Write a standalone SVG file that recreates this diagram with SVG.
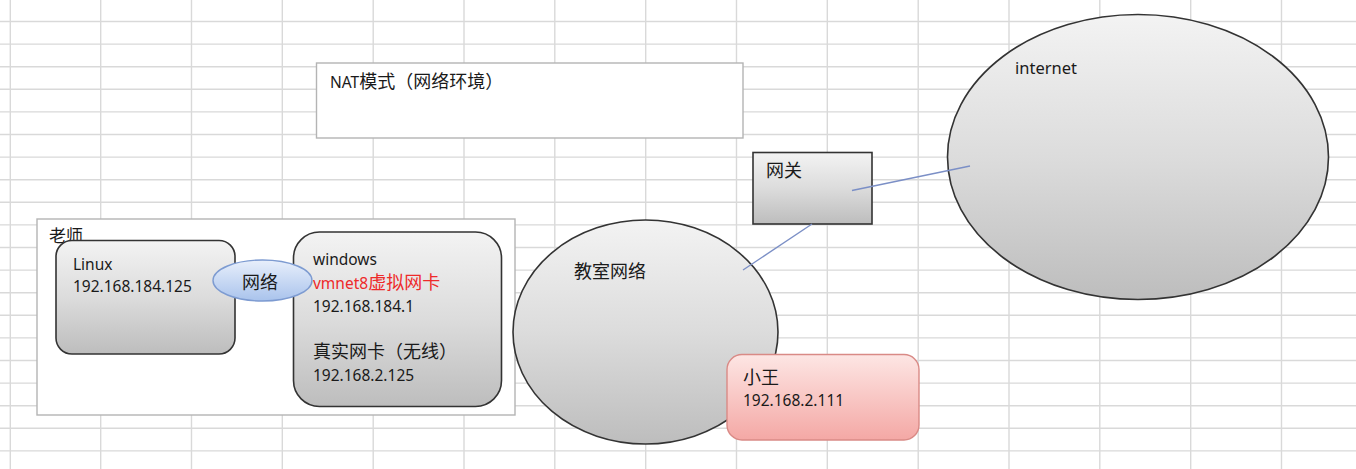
<svg xmlns="http://www.w3.org/2000/svg" width="1356" height="469" viewBox="0 0 1356 469">
<defs>
<linearGradient id="gGray" x1="0" y1="0" x2="0" y2="1">
<stop offset="0" stop-color="#f3f3f3"/>
<stop offset="0.5" stop-color="#dcdcdc"/>
<stop offset="1" stop-color="#bdbdbd"/>
</linearGradient>
<linearGradient id="gBlue" x1="0" y1="0" x2="0" y2="1">
<stop offset="0" stop-color="#e8effb"/>
<stop offset="1" stop-color="#a9c3ec"/>
</linearGradient>
<linearGradient id="gPink" x1="0" y1="0" x2="0" y2="1">
<stop offset="0" stop-color="#fde6e4"/>
<stop offset="1" stop-color="#f4a8a5"/>
</linearGradient>
<style>
.grid{stroke:#d9d9d9;stroke-width:1.4;fill:none}
.frame{fill:#ffffff;stroke:#b4b4b4;stroke-width:1.4}
.shape{fill:url(#gGray);stroke:#333333;stroke-width:1.6}
.net{fill:url(#gBlue);stroke:#7d9bd1;stroke-width:1.4}
.pink{fill:url(#gPink);stroke:#d98a86;stroke-width:1.4}
.conn{stroke:#7b8fc6;stroke-width:1.4;fill:none}
text{font-family:"Noto Sans","Noto Sans CJK SC",sans-serif;font-size:15.5px;fill:#1a1a1a}
.cjk{font-size:18px}
.red{fill:#ee2a2a}
</style>
</defs>
<rect x="0" y="0" width="1356" height="469" fill="#ffffff"/>
<g id="grid">
<path class="grid" d="M10.3 0V469M100.7 0V469M191.5 0V469M282.3 0V469M373.2 0V469M464 0V469M554.8 0V469M645.7 0V469M736.5 0V469M827.3 0V469M918.2 0V469M1009 0V469M1099.8 0V469M1190.7 0V469M1281.5 0V469"/>
<path class="grid" d="M0 21.5H1356M0 44.1H1356M0 66.7H1356M0 89.3H1356M0 111.9H1356M0 134.5H1356M0 157.1H1356M0 179.7H1356M0 202.3H1356M0 224.9H1356M0 247.5H1356M0 270.1H1356M0 292.7H1356M0 315.3H1356M0 337.9H1356M0 360.5H1356M0 383.1H1356M0 405.7H1356M0 428.3H1356M0 450.9H1356"/>
</g>
<g id="nat-title">
<rect class="frame" x="316.5" y="63" width="426.5" height="75"/>
<text x="330" y="88">NAT<tspan class="cjk">模式（网络环境）</tspan></text>
</g>
<g id="teacher">
<rect class="frame" x="37" y="219" width="478" height="196"/>
<text class="cjk" x="49" y="242" style="font-size:17px">老师</text>
</g>
<g id="linux">
<rect class="shape" x="56" y="240.5" width="179" height="113.5" rx="16"/>
<text x="73" y="270">Linux</text>
<text x="73" y="292">192.168.184.125</text>
</g>
<g id="windows">
<rect class="shape" x="293.5" y="232" width="208" height="174.5" rx="26"/>
<text x="313" y="265">windows</text>
<text class="red" x="313" y="289">vmnet8<tspan class="cjk red">虚拟网卡</tspan></text>
<text x="313" y="312">192.168.184.1</text>
<text class="cjk" x="313" y="358">真实网卡（无线）</text>
<text x="313" y="381">192.168.2.125</text>
</g>
<g id="vnet">
<ellipse class="net" cx="262.5" cy="280.5" rx="49.5" ry="20.5"/>
<text class="cjk" x="260" y="289" text-anchor="middle">网络</text>
</g>
<g id="classroom">
<ellipse class="shape" cx="645.5" cy="332" rx="132.5" ry="112"/>
<text class="cjk" x="574" y="278">教室网络</text>
</g>
<g id="xiaowang">
<rect class="pink" x="727" y="354.5" width="192" height="85.5" rx="15"/>
<text class="cjk" x="743" y="384">小王</text>
<text x="743" y="406">192.168.2.111</text>
</g>
<g id="gateway">
<rect class="shape" x="753" y="152.5" width="119" height="71.5"/>
<text class="cjk" x="766" y="177">网关</text>
</g>
<g id="internet">
<ellipse class="shape" cx="1138" cy="157" rx="190.5" ry="142.5"/>
<text x="1015" y="74" style="font-size:16.5px">internet</text>
</g>
<g id="connectors">
<line class="conn" x1="852" y1="190.5" x2="970" y2="166"/>
<line class="conn" x1="812" y1="224" x2="743" y2="270"/>
</g>
</svg>
